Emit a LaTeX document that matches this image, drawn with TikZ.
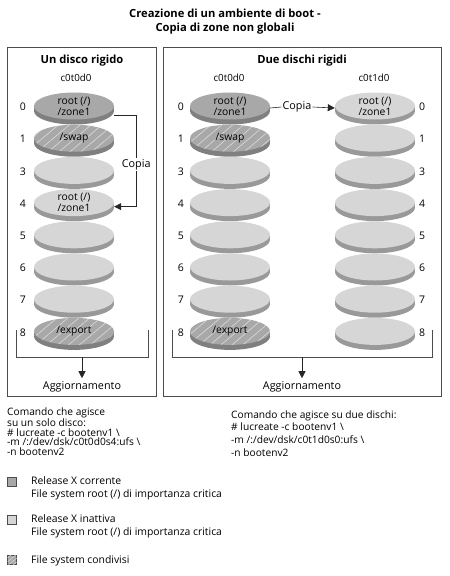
\documentclass[tikz,border=0pt]{standalone}
\usepackage{fontspec}
\setmainfont{Open Sans}
\usetikzlibrary{shapes.geometric,shadows,patterns.meta,arrows.meta}

\definecolor{facedark}{gray}{0.66}
\definecolor{facelight}{gray}{0.84}
\definecolor{rimdark}{gray}{0.50}
\definecolor{rimlight}{gray}{0.60}
\definecolor{hatchline}{gray}{0.86}
\definecolor{frameline}{gray}{0.30}

\tikzset{
  disk/.style={ellipse, minimum width=80pt, minimum height=27pt, inner sep=0pt,
    align=center, font=\fontsize{10.3}{11}\selectfont},
  current/.style={disk, fill=facedark,
    general shadow={fill=rimdark, shadow yshift=-2.5pt},
    general shadow={fill=rimdark, shadow yshift=-5pt}},
  inactive/.style={disk, fill=facelight,
    general shadow={fill=rimlight, shadow yshift=-2.5pt},
    general shadow={fill=rimlight, shadow yshift=-5pt}},
  shared/.style={current,
    postaction={pattern={Lines[angle=40,distance=7pt,line width=.6pt]}, pattern color=hatchline}},
  slicenum/.style={font=\fontsize{10.5}{10.5}\selectfont, inner sep=0pt},
  heading/.style={font=\bfseries\fontsize{11.2}{14}\selectfont, align=center},
  devname/.style={font=\fontsize{9.8}{10}\selectfont},
  upname/.style={font=\fontsize{10.8}{11}\selectfont},
  framebox/.style={draw=frameline, line width=.8pt},
  bracket/.style={draw=frameline, line width=.6pt},
  copyline/.style={draw=black!85, line width=.6pt},
  copyarrow/.style={copyline, -{Triangle[length=7pt,width=7pt]}},
  bodytext/.style={font=\fontsize{10.2}{9.6}\selectfont, align=left, inner sep=0pt},
  keytext/.style={font=\fontsize{10.4}{12.6}\selectfont, align=left, inner sep=0pt},
  keybox/.style={draw=frameline, line width=.5pt, minimum size=9pt, inner sep=0pt},
}

\begin{document}
\begin{tikzpicture}[x=1pt,y=-1pt]
  \useasboundingbox (0,0) rectangle (450,576);

  \node[heading] (title) at (225,22) {Creazione di un ambiente di boot -\\Copia di zone non globali};

  % frames
  \draw[framebox] (7,47) rectangle (156,396);
  \draw[framebox] (163,47) rectangle (441,396);
  \node[heading] (oneDisk) at (82,61) {Un disco rigido};
  \node[heading] (twoDisks) at (302,61) {Due dischi rigidi};
  \node[devname] (devA) at (76,78) {c0t0d0};
  \node[devname] (devB) at (229,78) {c0t0d0};
  \node[devname] (devC) at (374,78) {c0t1d0};

  % one disk
  \foreach \s/\kind/\txt [count=\k from 0] in
    {0/current/{root (/)\\/zone1}, 1/shared/{/swap}, 3/inactive/{}, 4/inactive/{root (/)\\/zone1},
     5/inactive/{}, 6/inactive/{}, 7/inactive/{}, 8/shared/{/export}} {
    \node[slicenum] (na\s) at (23,107+32.2*\k) {\s};
    \node[\kind] (a\s) at (74,106+32.2*\k) {\txt};
  }
  % two disks
  \foreach \s/\kind/\txt [count=\k from 0] in
    {0/current/{root (/)\\/zone1}, 1/shared/{/swap}, 3/inactive/{}, 4/inactive/{},
     5/inactive/{}, 6/inactive/{}, 7/inactive/{}, 8/shared/{/export}} {
    \node[slicenum] (nb\s) at (181,107+32.2*\k) {\s};
    \node[\kind] (b\s) at (230,106+32.2*\k) {\txt};
  }
  \foreach \s/\txt [count=\k from 0] in
    {0/{root (/)\\/zone1}, 1/{}, 3/{}, 4/{}, 5/{}, 6/{}, 7/{}, 8/{}} {
    \node[slicenum] (nc\s) at (422,107+32.2*\k) {\s};
    \node[inactive] (c\s) at (375,106+32.2*\k) {\txt};
  }

  % copy connectors
  \draw[copyarrow] ([yshift=-9pt]a0.east) -- ++(22,0)
    |- node[pos=.27, fill=white, inner sep=1pt, upname] (copyA) {Copia}
    ([yshift=-4pt]a4.east);
  \node[upname, inner sep=1pt] (copyB) at (297,107) {Copia};
  \draw[copyline] ([yshift=-2pt]b0.east) -- (copyB.west);
  \draw[copyarrow] (copyB.east) -- ([yshift=-2pt]c0.west);

  % upgrade brackets
  \draw[bracket] (16,330) -- (16,357) -- (148,357) -- (148,330);
  \draw[bracket] (172,330) -- (172,357) -- (432,357) -- (432,330);
  \coordinate (upA) at (82,357);
  \coordinate (upB) at (302,357);
  \node[upname] (updA) at (82,387) {Aggiornamento};
  \node[upname] (updB) at (302,387) {Aggiornamento};
  \draw[copyarrow] (upA) -- (updA.north);
  \draw[copyarrow] (upB) -- (updB.north);

  % commands (anchored on the last baseline)
  \node[bodytext, anchor=base west] (cmdA) at (7,455.5)
    {Comando che agisce\\su un solo disco:\\\# lucreate -c bootenv1 \textbackslash\\-m /:/dev/dsk/c0t0d0s4:ufs \textbackslash\\-n bootenv2};
  \node[bodytext, anchor=base west, font=\fontsize{10.2}{12.8}\selectfont] (cmdB) at (231,456.5)
    {Comando che agisce su due dischi:\\\# lucreate -c bootenv1 \textbackslash\\-m /:/dev/dsk/c0t1d0s0:ufs \textbackslash\\-n bootenv2};

  % legend
  \node[keybox, fill=facedark] (keyCur) at (12,482) {};
  \node[keybox, fill=facelight] (keyIna) at (12,520) {};
  \node[keybox, fill=facedark, postaction={pattern={Lines[angle=40,distance=3pt,line width=.5pt]}, pattern color=hatchline}] (keyShr) at (12,560) {};
  \node[keytext, anchor=base west] (txtCur) at (31,497.5) {Release X corrente\\File system root (/) di importanza critica};
  \node[keytext, anchor=base west] (txtIna) at (31,535.5) {Release X inattiva\\File system root (/) di importanza critica};
  \node[keytext, anchor=base west] (txtShr) at (31,563.5) {File system condivisi};
\end{tikzpicture}
\end{document}
